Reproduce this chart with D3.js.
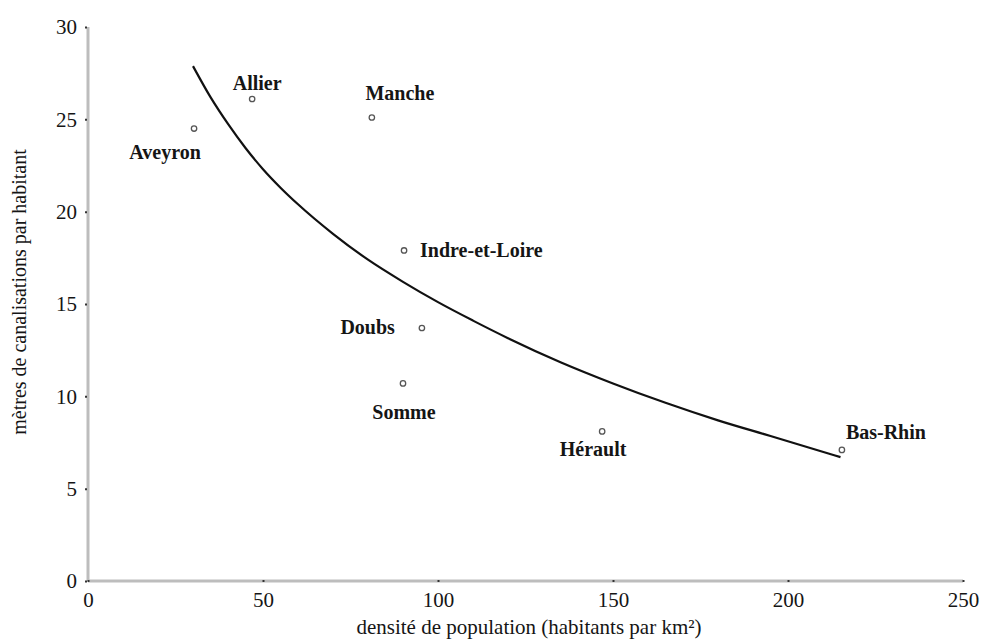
<!DOCTYPE html>
<html>
<head>
<meta charset="utf-8">
<script src="https://cdn.jsdelivr.net/npm/d3@7"></script>
<style>
  html, body { margin: 0; padding: 0; background: #fff; }
  svg { display: block; }
  text { font-family: "Liberation Serif", "DejaVu Serif", serif; fill: #151515; }
</style>
</head>
<body>
<svg id="chart" width="998" height="643"></svg>
<script>
// ---- data ----
const departements = ["Aveyron", "Allier", "Manche", "Indre-et-Loire", "Doubs", "Somme", "Hérault", "Bas-Rhin"];
const densite = [30.3, 46.9, 81.1, 90.3, 95.4, 90.0, 146.9, 215.4];
const metres = [24.5, 26.1, 25.1, 17.9, 13.7, 10.7, 8.1, 7.1];

// trend curve
const trendX = [30, 35, 40, 45, 50, 55, 60, 70, 80, 90, 100, 110, 120, 135, 150, 165, 180, 195, 215];
const trendY = [27.88, 26.2, 24.75, 23.45, 22.3, 21.3, 20.4, 18.8, 17.4, 16.2, 15.1, 14.1, 13.15, 11.85, 10.7, 9.65, 8.7, 7.85, 6.71];

const xTicks = [0, 50, 100, 150, 200, 250];
const yTicks = [0, 5, 10, 15, 20, 25, 30];
const xTitle = "densité de population (habitants par km²)";
const yTitle = "mètres de canalisations par habitant";

// ---- layout (label placement relative to the point, in px) ----
const labelLayout = {
  "Aveyron":        { anchor: "middle", dx: -29, dy: 23 },
  "Allier":         { anchor: "middle", dx: 5,   dy: -16 },
  "Manche":         { anchor: "middle", dx: 28,  dy: -24 },
  "Indre-et-Loire": { anchor: "start",  dx: 16,  dy: 0 },
  "Doubs":          { anchor: "end",    dx: -27, dy: -1 },
  "Somme":          { anchor: "middle", dx: 1,   dy: 29 },
  "Hérault":        { anchor: "middle", dx: -9,  dy: 18 },
  "Bas-Rhin":       { anchor: "start",  dx: 4,   dy: -18 }
};

const svg = d3.select("#chart");
const x = d3.scaleLinear().domain([0, 250]).range([88, 963]);
const y = d3.scaleLinear().domain([0, 30]).range([581, 27]);

// axes lines
const axisColor = "#bdbdbd";
svg.append("line").attr("x1", x(0)).attr("x2", x(0)).attr("y1", y(30)).attr("y2", y(0))
  .attr("stroke", axisColor).attr("stroke-width", 3);
svg.append("line").attr("x1", x(0)).attr("x2", x(250)).attr("y1", y(0)).attr("y2", y(0))
  .attr("stroke", axisColor).attr("stroke-width", 3);

// y ticks
const yAxis = d3.axisLeft(y).tickValues(yTicks).tickSize(2).tickPadding(8);
const gy = svg.append("g").attr("transform", `translate(${x(0) - 1},0)`).call(yAxis);
gy.select(".domain").remove();
gy.selectAll(".tick line").attr("stroke", "#333").attr("stroke-width", 2);
gy.selectAll(".tick text").style("font-size", "21px").style("font-family", "Liberation Serif, serif").attr("fill", "#151515");

// x ticks
const xAxis = d3.axisBottom(x).tickValues(xTicks).tickSize(2).tickPadding(10);
const gx = svg.append("g").attr("transform", `translate(0,${y(0) - 1})`).call(xAxis);
gx.select(".domain").remove();
gx.selectAll(".tick line").attr("stroke", "#333").attr("stroke-width", 2);
gx.selectAll(".tick text").style("font-size", "21px").style("font-family", "Liberation Serif, serif").attr("fill", "#151515");

// titles
svg.append("text").attr("x", 529).attr("y", 634).attr("text-anchor", "middle")
  .style("font-size", "21px").text(xTitle);
svg.append("text").attr("transform", `translate(26,292) rotate(-90)`).attr("text-anchor", "middle")
  .style("font-size", "20px").text(yTitle);

// trend curve
const trend = trendX.map((v, i) => [v, trendY[i]]);
svg.append("path").datum(trend)
  .attr("d", d3.line().x(d => x(d[0])).y(d => y(d[1])).curve(d3.curveMonotoneX))
  .attr("fill", "none").attr("stroke", "#111").attr("stroke-width", 2.2);

// points
const pts = departements.map((n, i) => ({ name: n, x: densite[i], y: metres[i] }));
svg.append("g").selectAll("circle").data(pts).join("circle")
  .attr("cx", d => x(d.x)).attr("cy", d => y(d.y)).attr("r", 2.7)
  .attr("fill", "#fff").attr("stroke", "#555").attr("stroke-width", 1.3);

// labels
svg.append("g").selectAll("text").data(pts).join("text")
  .attr("x", d => x(d.x) + labelLayout[d.name].dx)
  .attr("y", d => y(d.y) + labelLayout[d.name].dy)
  .attr("text-anchor", d => labelLayout[d.name].anchor)
  .attr("dominant-baseline", "central")
  .style("font-size", "20px").style("font-weight", "bold")
  .text(d => d.name);
</script>
</body>
</html>
